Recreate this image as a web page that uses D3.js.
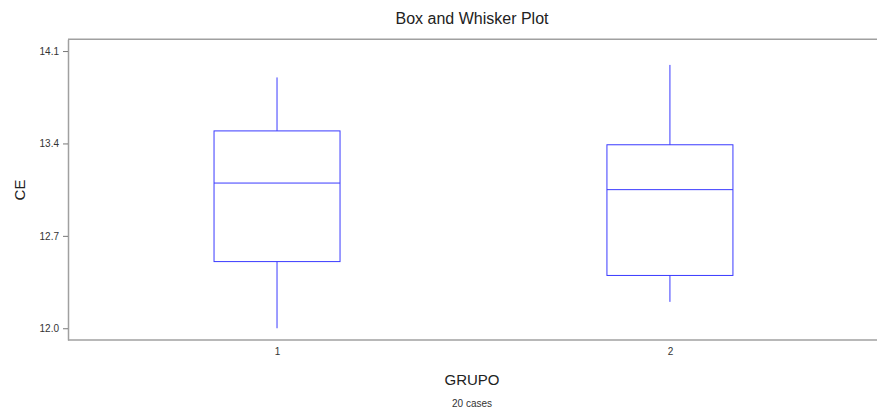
<!DOCTYPE html>
<html>
<head>
<meta charset="utf-8">
<script src="https://cdn.jsdelivr.net/npm/d3@7"></script>
<style>
  html, body { margin: 0; padding: 0; background: #fff; }
  svg { display: block; font-family: "Liberation Sans", Arial, sans-serif; }
</style>
</head>
<body>
<svg id="chart" width="877" height="409"></svg>
<script>
// ---- data ----
const groups = ["1", "2"];
const groupPos = [1, 2];
const whiskerLow = [12.00, 12.20];
const q1 = [12.505, 12.40];
const median = [13.10, 13.05];
const q3 = [13.495, 13.39];
const whiskerHigh = [13.90, 13.995];
const yTicks = [12.0, 12.7, 13.4, 14.1];
const caseCount = 20;

// ---- layout ----
const svg = d3.select("#chart");
const mLeft = 68, mRight = 877, mTop = 39.3, mBottom = 340;

const x = d3.scaleLinear().domain([0.468, 2.527]).range([mLeft, mRight]);
const y = d3.scaleLinear().domain([11.911, 14.189]).range([mBottom, mTop]);
const boxHalf = 63;

// frame lines
const axisColor = "#a0a0a0";
svg.append("line").attr("x1", mLeft).attr("x2", mRight).attr("y1", mTop).attr("y2", mTop)
  .attr("stroke", axisColor).attr("stroke-width", 1.5);
svg.append("line").attr("x1", mLeft).attr("x2", mRight).attr("y1", mBottom).attr("y2", mBottom)
  .attr("stroke", axisColor).attr("stroke-width", 1.5);

// y axis
const yAxis = d3.axisLeft(y).tickValues(yTicks).tickFormat(d3.format(".1f")).tickSizeInner(5).tickSizeOuter(0).tickPadding(4);
const gy = svg.append("g").attr("transform", `translate(${mLeft},0)`).call(yAxis);
gy.select(".domain").attr("stroke", axisColor).attr("stroke-width", 1.5);
gy.selectAll(".tick line").attr("stroke", "#777");
gy.selectAll(".tick text").attr("fill", "#333").attr("font-size", 10).attr("font-family", "Liberation Sans, Arial, sans-serif");

// x axis labels (no tick marks)
const xAxis = d3.axisBottom(x).tickValues(groupPos).tickFormat((d, i) => groups[i]).tickSize(0).tickPadding(8);
const gx = svg.append("g").attr("transform", `translate(0,${mBottom})`).call(xAxis);
gx.select(".domain").remove();
gx.selectAll(".tick text").attr("fill", "#333").attr("font-size", 10).attr("font-family", "Liberation Sans, Arial, sans-serif");

// boxes
const boxColor = "#3a3aff";
const data = groupPos.map((g, i) => ({ g, lo: whiskerLow[i], q1: q1[i], med: median[i], q3: q3[i], hi: whiskerHigh[i] }));
const b = svg.append("g").selectAll("g").data(data).join("g");
b.append("line").attr("x1", d => x(d.g)).attr("x2", d => x(d.g)).attr("y1", d => y(d.hi)).attr("y2", d => y(d.q3))
  .attr("stroke", boxColor).attr("stroke-width", 1);
b.append("line").attr("x1", d => x(d.g)).attr("x2", d => x(d.g)).attr("y1", d => y(d.q1)).attr("y2", d => y(d.lo))
  .attr("stroke", boxColor).attr("stroke-width", 1);
b.append("rect").attr("x", d => x(d.g) - boxHalf).attr("width", boxHalf * 2)
  .attr("y", d => y(d.q3)).attr("height", d => y(d.q1) - y(d.q3))
  .attr("fill", "none").attr("stroke", boxColor).attr("stroke-width", 1);
b.append("line").attr("x1", d => x(d.g) - boxHalf).attr("x2", d => x(d.g) + boxHalf)
  .attr("y1", d => y(d.med)).attr("y2", d => y(d.med))
  .attr("stroke", boxColor).attr("stroke-width", 1);

// titles
svg.append("text").attr("x", 472).attr("y", 24).attr("text-anchor", "middle")
  .attr("font-size", 16).attr("fill", "#222").text("Box and Whisker Plot");
svg.append("text").attr("transform", "translate(25,190) rotate(-90)").attr("text-anchor", "middle")
  .attr("font-size", 15).attr("fill", "#222").text("CE");
svg.append("text").attr("x", 472).attr("y", 385).attr("text-anchor", "middle")
  .attr("font-size", 15).attr("fill", "#222").text("GRUPO");
svg.append("text").attr("x", 472).attr("y", 407).attr("text-anchor", "middle")
  .attr("font-size", 10).attr("fill", "#333").text(caseCount + " cases");
</script>
</body>
</html>
